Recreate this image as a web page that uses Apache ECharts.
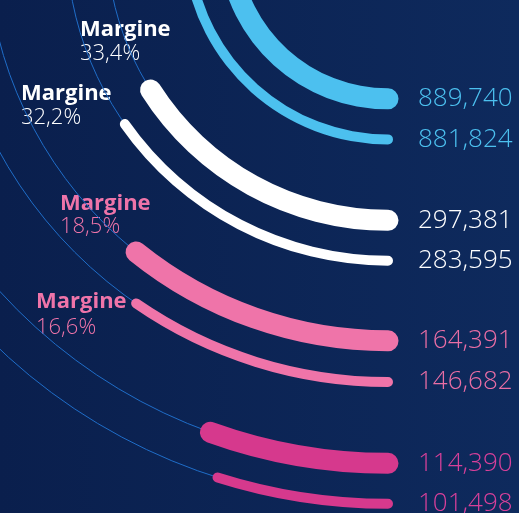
<!DOCTYPE html>
<html>
<head>
<meta charset="utf-8">
<script src="https://cdn.jsdelivr.net/npm/echarts@6/dist/echarts.min.js"></script>
<style>
html,body{margin:0;padding:0;background:#0b2252;}
#chart{width:519px;height:513px;}
</style>
</head>
<body>
<div id="chart"></div>
<script>
// ---- data ----
const groups = ['Blu', 'Bianco', 'Rosa', 'Magenta'];
const thickValues = [889740, 297381, 164391, 114390];
const thinValues  = [881824, 283595, 146682, 101498];
const marginTitle = 'Margine';
const marginLabels = ['33,4%', '32,2%', '18,5%', '16,6%'];

// ---- layout / style ----
const center = [388, -61];
const rings = [[159.8, 200.4], [281.3, 321.7], [401.8, 443.0], [524.3, 564.8]];
const angleMax = [950000, 465000, 381000, 520000];
const barColors = ['#4cc0ef', '#ffffff', '#ef74a9', '#d6398d'];
const labelColors = ['#4cc0ef', '#ffffff', '#ea6ea5', '#d8409a'];
const thickWidth = 21, thinWidth = 10;
const marginPos = [[80, 29.4, 53.3], [21, 94, 118], [60, 203.3, 226.6], [36, 302, 327.4]];
const marginColors = ['#ffffff', '#ffffff', '#ef74a9', '#ef74a9'];

const polar = [], angleAxis = [], radiusAxis = [], series = [];
groups.forEach((g, p) => {
  [0, 1].forEach(s => {
    const idx = p * 2 + s;
    polar.push({ center: center, radius: rings[p] });
    angleAxis.push({
      polarIndex: idx, type: 'value', min: 0, max: angleMax[p],
      startAngle: 270, endAngle: 180, clockwise: true, show: false
    });
    radiusAxis.push({
      polarIndex: idx, type: 'category', data: ['a', 'b'], boundaryGap: false,
      axisLine: { show: false }, axisTick: { show: false }, axisLabel: { show: false },
      splitLine: { show: s === 0, lineStyle: { color: '#1f6dc8', width: 1 } }
    });
    const v = s === 0 ? thickValues[p] : thinValues[p];
    const w = s === 0 ? thickWidth : thinWidth;
    series.push({
      type: 'bar', coordinateSystem: 'polar', polarIndex: idx,
      data: s === 0 ? [v, '-'] : ['-', v],
      barWidth: w, roundCap: true, clip: false,
      itemStyle: { color: barColors[p] },
      silent: true,
      label: {
        show: true, position: 'start', distance: 30 - w / 2, rotate: 0,
        align: 'left', verticalAlign: 'middle',
        formatter: (pr) => Number(pr.value).toLocaleString('en-US'),
        color: labelColors[p], fontFamily: 'Open Sans', fontWeight: 300, fontSize: 26
      }
    });
  });
});

const graphic = [];
marginLabels.forEach((m, i) => {
  const pos = marginPos[i];
  graphic.push({ type: 'text', x: pos[0], y: pos[1], silent: true,
    style: { text: marginTitle, fill: marginColors[i], font: 'bold 22px "Open Sans"', verticalAlign: 'middle' } });
  graphic.push({ type: 'text', x: pos[0], y: pos[2], silent: true,
    style: { text: m, fill: marginColors[i], font: '300 22px "Open Sans"', verticalAlign: 'middle' } });
});

const chart = echarts.init(document.getElementById('chart'), null, { renderer: 'canvas' });
chart.setOption({
  animation: false,
  backgroundColor: {
    type: 'linear', x: 0, y: 0, x2: 1, y2: 0,
    colorStops: [{ offset: 0, color: '#0a1f4d' }, { offset: 1, color: '#0e2a5d' }]
  },
  polar, angleAxis, radiusAxis, series, graphic
});
</script>
</body>
</html>
